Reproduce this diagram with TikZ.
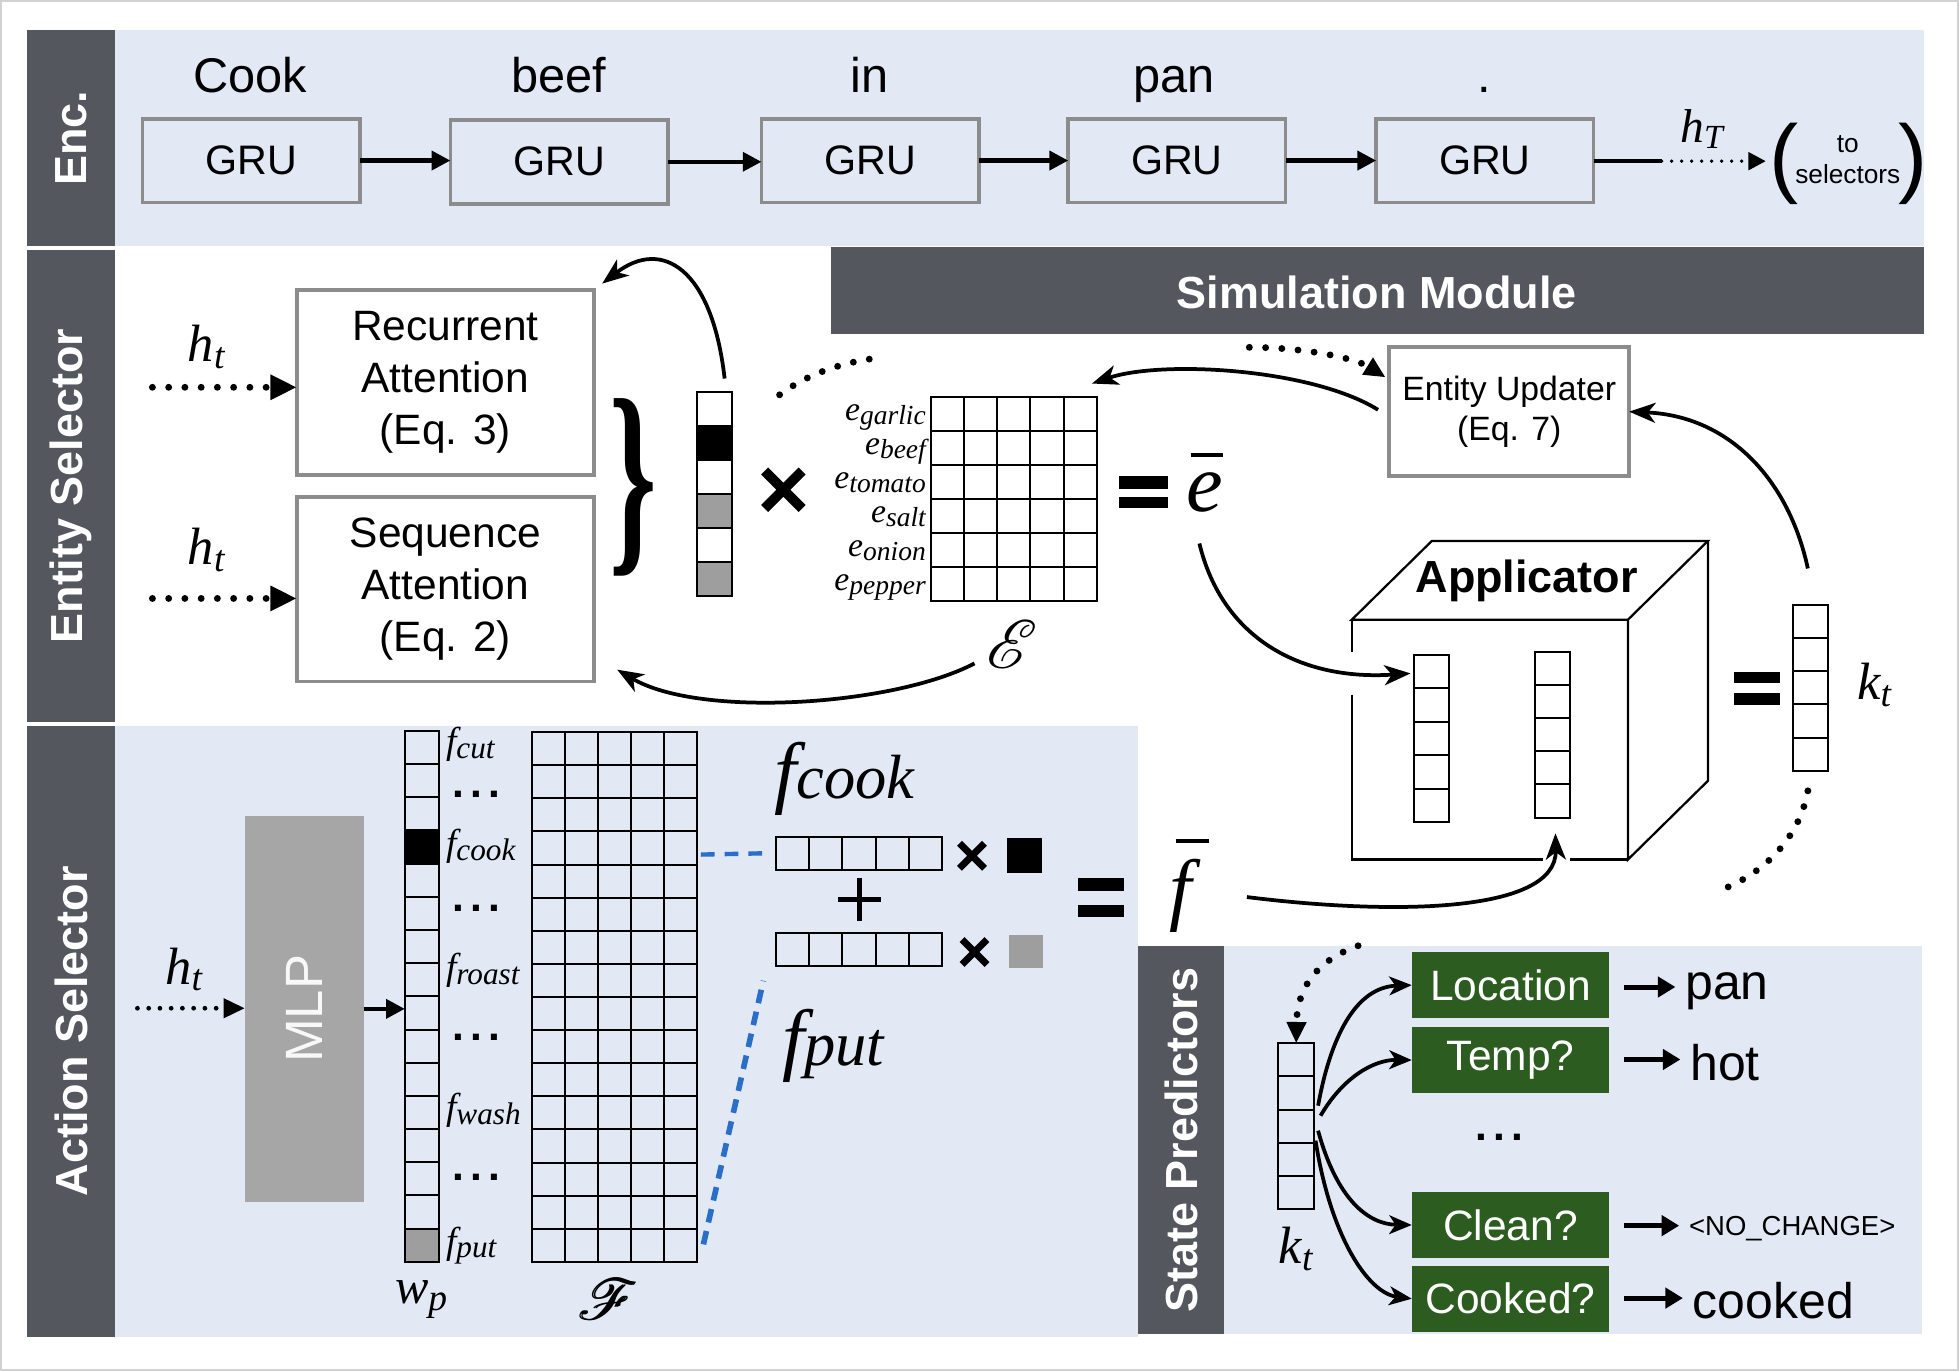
\documentclass[tikz,border=0pt]{standalone}
\usepackage{fontspec}
\usepackage{graphicx}
\usepackage{mathrsfs}
\setmainfont{Liberation Sans}
\newfontfamily\tms{Liberation Serif}
\usetikzlibrary{arrows.meta,calc}

\definecolor{panel}{RGB}{226,233,245}
\definecolor{bar}{RGB}{84,87,94}
\definecolor{boxedge}{RGB}{140,140,140}
\definecolor{mlpgray}{RGB}{166,166,166}
\definecolor{cellgray}{RGB}{158,158,158}
\definecolor{predgreen}{RGB}{44,92,31}
\definecolor{linkblue}{RGB}{42,110,200}

\newcommand\fsz[2]{\fontsize{#1}{#2}\selectfont}
% italic serif symbol with a lowered subscript: size, letter, subscript size, subscript
\newcommand\isub[4]{{\tms\itshape\fsz{#1}{#1}#2\raisebox{-0.13em}{\fsz{#3}{#3}#4}}}
% cell dividers of a vector / matrix node: node, count, count-1
\newcommand\rowlines[3]{\foreach \ii in {1,...,#3}{\draw[cellline] ($(#1.north west)!\ii/#2!(#1.south west)$) -- ($(#1.north east)!\ii/#2!(#1.south east)$);}}
\newcommand\collines[3]{\foreach \ii in {1,...,#3}{\draw[cellline] ($(#1.north west)!\ii/#2!(#1.north east)$) -- ($(#1.south west)!\ii/#2!(#1.south east)$);}}
% fill one row cell: node, rows, index, colour
\newcommand\cellfill[4]{\pgfmathsetmacro\cfa{(#3-1)/#2}\pgfmathsetmacro\cfb{#3/#2}\fill[#4] ($(#1.north west)!\cfa!(#1.south west)$) rectangle ($(#1.north east)!\cfb!(#1.south east)$);}

\begin{document}
\begin{tikzpicture}[x=1pt,y=-1pt,
  every node/.style={inner sep=0pt,outer sep=0pt},
  barlabel/.style={text=white,font=\bfseries\fsz{36}{36},rotate=90},
  word/.style={anchor=base,font=\fsz{39}{39}},
  grubox/.style={draw=boxedge,line width=3pt,fill=panel,minimum width=174pt,minimum height=67pt,font=\fsz{33}{33}},
  attbox/.style={draw=boxedge,line width=3pt,fill=white,minimum width=238pt,minimum height=148pt,align=center,font=\fsz{34}{42}},
  predbox/.style={fill=predgreen,text=white,minimum width=158pt,minimum height=53pt,font=\fsz{34}{34}},
  outtxt/.style={anchor=base west,font=\fsz{40}{40}},
  cellline/.style={line width=1.6pt},
  vecbox/.style={draw,line width=1.6pt,minimum width=28pt},
  seqarrow/.style={line width=3.5pt,-{Triangle[length=15pt,width=15pt]}},
  outarrow/.style={line width=4pt,shorten >=8pt,-{Triangle[length=14pt,width=16pt]}},
  arcarrow/.style={line width=3pt,-{Stealth[length=21pt,width=16pt,inset=6pt]}},
  fanarrow/.style={line width=3pt,-{Stealth[length=18pt,width=15pt,inset=5pt]}},
  dotline/.style={line width=5.5pt,line cap=round,dash pattern=on 0pt off 13pt},
  smalldots/.style={line width=3.8pt,line cap=round,dash pattern=on 0pt off 9pt},
  tipL/.style={-{Triangle[length=21pt,width=19pt]}},
  tipM/.style={-{Triangle[length=17pt,width=15pt]}},
  tipS/.style={-{Triangle[length=14pt,width=14pt]}},
  crossmark/.style={line width=5.5pt},
]
\useasboundingbox (0,0) rectangle (1568,1097);
\draw[black!18,line width=1.5pt] (0.75,0.75) rectangle (1567.25,1096.25);

% section backgrounds and title bars
\fill[panel] (92,24) rectangle (1540,197);
\fill[panel] (92,581) rectangle (911,1070);
\fill[panel] (980,757) rectangle (1538,1068);
\fill[bar] (22,24) rectangle (92,197);
\fill[bar] (22,200) rectangle (92,578);
\fill[bar] (22,581) rectangle (92,1070);
\fill[bar] (911,757) rectangle (980,1068);
\fill[bar] (665,198) rectangle (1540,267);
\node[barlabel] (encl) at (57,110.5) {Enc.};
\node[barlabel] (entl) at (57,389) {Entity Selector};
\node[barlabel] (actl) at (57,825.5) {Action Selector};
\node[barlabel] (stl) at (945.5,912.5) {State Predictors};
\node[text=white,font=\bfseries\fsz{36}{36}] (siml) at (1102,234) {Simulation Module};

% ---------------- encoder ----------------
\node[word] (w1) at (200,74) {Cook};
\node[word] (w2) at (447,74) {beef};
\node[word] (w3) at (696,74) {in};
\node[word] (w4) at (940,74) {pan};
\node[word] (w5) at (1188,74) {.};
\node[grubox] (g1) at (201,128.5) {GRU};
\node[grubox] (g2) at (447.5,129.5) {GRU};
\node[grubox] (g3) at (696.5,128.5) {GRU};
\node[grubox] (g4) at (942,128.5) {GRU};
\node[grubox] (g5) at (1188.5,128.5) {GRU};
\foreach \a/\b in {g1/g2,g2/g3,g3/g4,g4/g5}
  \draw[seqarrow] (\a.east) -- (\a.east -| \b.west);
\node[font=\fsz{70}{70}] (lp) at (1428,131.5) {(};
\node[font=\fsz{70}{70}] (rp) at (1531,131.5) {)};
\node[align=center,font=\fsz{21}{25}] (sel) at (1479,128) {to\\selectors};
\node (hT) at (1362,103) {\isub{38}{h}{27}{T}};
\coordinate (hTgap) at (1330,129);
\draw[line width=3pt] (g5.east |- hTgap) -- (hTgap);
\draw[tipS,line width=3pt,line cap=round,dash pattern=on 0pt off 8pt,shorten >=3pt] (hTgap) -- (hTgap -| lp.west);

% ---------------- entity selector ----------------
\node[attbox] (rec) at (356.5,306) {Recurrent\\Attention\\(Eq. 3)};
\node[attbox] (seq) at (356.5,471.5) {Sequence\\Attention\\(Eq. 2)};
\node (ht1) at (165,278) {\isub{42}{h}{30}{t}};
\node (ht2) at (165,440) {\isub{42}{h}{30}{t}};
\coordinate (in1) at (122,310);
\coordinate (in2) at (122,479);
\draw[dotline,tipL] (in1) -- (in1 -| rec.west);
\draw[dotline,tipL] (in2) -- (in2 -| seq.west);
\node (brace) at (507,390) {\resizebox*{38pt}{142pt}{\tms\bfseries\}}};

% attention weights over entities
\node[minimum width=28pt,minimum height=163pt,fill=white] (att) at (572,395.5) {};
\cellfill{att}{6}{2}{black}
\cellfill{att}{6}{4}{cellgray}
\cellfill{att}{6}{6}{cellgray}
\rowlines{att}{6}{5}
\draw[cellline] (att.north west) rectangle (att.south east);
\draw[line width=8pt] (612,377) -- (642,407) (612,407) -- (642,377);

% entity matrix
\node[minimum width=133pt,minimum height=163pt] (Emat) at (811.5,399.5) {};
\rowlines{Emat}{6}{5}
\collines{Emat}{5}{4}
\draw[cellline] (Emat.north west) rectangle (Emat.south east);
\foreach \nm/\yy in {garlic/331.6,beef/358.8,tomato/385.9,salt/413,onion/440.2,pepper/467.4}
  \node[anchor=base east] (e\nm) at (741,\yy+5) {\isub{27}{e}{22}{\nm}};
\node (Escr) at (810,516) {\fsz{10}{10}\scalebox{5.5}{$\mathscr{E}$}};
\fill (896,381) rectangle (935,391);
\fill (896,398) rectangle (935,407);
\node[font=\tms\itshape\fsz{66}{66}] (ebar) at (964,394) {e};
\draw[line width=3pt] (953,364) -- (979,364);

% entity updater
\node[draw=boxedge,line width=3pt,fill=white,minimum width=192pt,minimum height=103pt,align=center,font=\fsz{27}{32}] (upd) at (1208,329.5) {Entity Updater\\(Eq. 7)};

\coordinate (attTop) at (580,303);
\coordinate (recIn) at (482,227);
\draw[arcarrow] (attTop) .. controls (570,215) and (530,190) .. (recIn);
\coordinate (Eout) at (780,531);
\coordinate (seqIn) at (494,536);
\draw[arcarrow] (Eout) .. controls (715,565) and (560,575) .. (seqIn);
\coordinate (updOut) at (1103,328);
\coordinate (EmIn) at (874,307);
\draw[arcarrow] (updOut) .. controls (1050,295) and (930,288) .. (EmIn);
\coordinate (dA) at (624,316);
\coordinate (dB) at (707,286);
\draw[dotline] (dA) .. controls (648,298) and (678,289) .. (dB);
\coordinate (dC) at (1000,278);
\coordinate (updIn) at (1109,302);
\draw[dotline,tipM] (dC) .. controls (1045,278) and (1085,287) .. (updIn);

% ---------------- applicator ----------------
\coordinate (cA) at (1082,496); \coordinate (cB) at (1303,496);
\coordinate (cC) at (1303,688); \coordinate (cD) at (1082,688);
\coordinate (cE) at (1146,433); \coordinate (cF) at (1367,433);
\coordinate (cG) at (1367,625);
\draw[line width=1.8pt] (cA) -- (cE) -- (cF) -- (cB) -- cycle;
\draw[line width=1.8pt] (cF) -- (cG) -- (cC) -- (cB);
\draw[line width=1.8pt] (cA) -- (1082,522) (1082,556) -- (cD) -- (1235,688) (1257,688) -- (cC);
\node[font=\bfseries\fsz{36}{36}] (appl) at (1222,465) {Applicator};
\node[vecbox,minimum height=134pt] (v1) at (1145.5,591) {};
\rowlines{v1}{5}{4}
\node[vecbox,minimum height=133pt] (v2) at (1242.5,588) {};
\rowlines{v2}{5}{4}
\node[vecbox,minimum height=133pt] (kt) at (1449,550.5) {};
\rowlines{kt}{5}{4}
\fill (1388,538) rectangle (1425,547);
\fill (1388,555) rectangle (1425,564);
\node (ktl) at (1500,548) {\isub{42}{k}{30}{t}};

\coordinate (ebarOut) at (960,435);
\coordinate (v1In) at (1129,539);
\draw[arcarrow] (ebarOut) .. controls (978,510) and (1040,545) .. (v1In);
\node[font=\tms\itshape\fsz{64}{64}] (fbar) at (945,717) {f};
\draw[line width=3pt] (941,673) -- (968,673);
\coordinate (fbarOut) at (998,718);
\coordinate (v2In) at (1245,667);
\draw[arcarrow] (fbarOut) .. controls (1110,732) and (1246,732) .. (v2In);
\coordinate (ktOut) at (1447,455);
\draw[arcarrow] (ktOut) .. controls (1432,385) and (1385,333) .. (upd.east);
\coordinate (kA) at (1447,633);
\coordinate (kB) at (1378,712);
\draw[dotline] (kA) .. controls (1440,672) and (1410,700) .. (kB);

% ---------------- action selector ----------------
\node (hta) at (147,776) {\isub{42}{h}{30}{t}};
\node[fill=mlpgray,minimum width=95pt,minimum height=309pt] (mlp) at (243.5,807.5) {};
\node[rotate=90,text=white!92!mlpgray,font=\fsz{42}{42}] (mlpt) at (mlp) {MLP};
\coordinate (in3) at (110,807);
\draw[smalldots,tipM] (in3) -- (in3 -| mlp.west);

\node[minimum width=27pt,minimum height=425pt,fill=panel] (wp) at (337.5,797.5) {};
\cellfill{wp}{16}{4}{black}
\cellfill{wp}{16}{16}{cellgray}
\rowlines{wp}{16}{15}
\draw[cellline] (wp.north west) rectangle (wp.south east);
\draw[seqarrow] (mlp.east) -- (mlp.east -| wp.west);
\foreach \nm/\yy in {cut/597,cook/679,roast/778,wash/890,put/997}
  \node[anchor=base west] (f\nm) at (357,\yy+6) {\isub{30}{f}{25}{\nm}};
\foreach \yy [count=\i] in {636,727,830,942}
  \node[anchor=west] (fd\i) at (362,\yy) {\bfseries\fsz{34}{34}.\hspace{5pt}.\hspace{5pt}.};

\node[minimum width=132pt,minimum height=424pt] (Fmat) at (492,798) {};
\rowlines{Fmat}{16}{15}
\collines{Fmat}{5}{4}
\draw[cellline] (Fmat.north west) rectangle (Fmat.south east);
\node (wpl) at (337,1040) {\isub{40}{w}{30}{p}};
\node (Fscr) at (487,1040) {\fsz{10}{10}\scalebox{4.6}{\rlap{$\mathscr{F}$}\kern0.35pt$\mathscr{F}$}};

% weighted sum of the selected action embeddings
\node (fcookL) at (676,623) {{\tms\itshape\fsz{64}{64}f\fsz{50}{50}cook}};
\node[minimum width=133pt,minimum height=26pt] (fcv) at (687.5,683) {};
\collines{fcv}{5}{4}
\draw[cellline] (fcv.north west) rectangle (fcv.south east);
\node[minimum width=133pt,minimum height=26pt] (fpv) at (687.5,760) {};
\collines{fpv}{5}{4}
\draw[cellline] (fpv.north west) rectangle (fpv.south east);
\node (fputL) at (667,837) {{\tms\itshape\fsz{64}{64}f\fsz{50}{50}put}};
\draw[crossmark] (768,675) -- (788,695) (768,695) -- (788,675);
\draw[crossmark] (770,752) -- (790,772) (770,772) -- (790,752);
\node[fill=black,minimum size=28pt] (wcook) at (820,685) {};
\node[fill=cellgray,minimum size=27pt] (wput) at (821.5,761.5) {};
\draw[line width=4.5pt] (671,720) -- (705,720) (688,703) -- (688,737);
\fill (863,703) rectangle (900,713);
\fill (863,724) rectangle (900,734);
\coordinate (bl1) at (561,684);
\draw[linkblue,line width=3.5pt,dash pattern=on 11pt off 8pt] (bl1) -- ($(fcv.west)+(-10,0)$);
\coordinate (bl2) at (563,996);
\draw[linkblue,line width=4.5pt,dash pattern=on 11pt off 7pt] (bl2) -- ($(fpv.south west)+(-10,12)$);

% ---------------- state predictors ----------------
\node[vecbox,minimum width=29pt,minimum height=133pt] (kt2) at (1037.5,901.5) {};
\rowlines{kt2}{5}{4}
\node (kt2l) at (1037,1000) {\isub{42}{k}{30}{t}};
\coordinate (sA) at (1087,757);
\draw[dotline,tipM] (sA) .. controls (1050,770) and (1038,795) .. (kt2.north);
\node[predbox] (loc) at (1209,788.5) {Location};
\node[predbox] (tmp) at (1209,848.5) {Temp?};
\node[predbox] (cln) at (1209,980.5) {Clean?};
\node[predbox] (ckd) at (1209,1039.5) {Cooked?};
\coordinate (k1) at (1055,885);
\coordinate (k2) at (1057,893);
\coordinate (k3) at (1055,905);
\coordinate (k4) at (1053,913);
\draw[fanarrow] (k1) .. controls (1065,830) and (1085,790) .. (loc.west);
\draw[fanarrow] (k2) .. controls (1075,862) and (1100,848) .. (tmp.west);
\draw[fanarrow] (k3) .. controls (1070,960) and (1095,980) .. (cln.west);
\draw[fanarrow] (k4) .. controls (1065,990) and (1095,1035) .. (ckd.west);
\node (sdots) at (1200,910) {\bfseries\fsz{34}{34}.\hspace{5pt}.\hspace{5pt}.};

\node[outtxt] (o1) at (1349,800) {pan};
\node[outtxt] (o2) at (1353,865) {hot};
\node[outtxt,font=\fsz{22}{22}] (o3) at (1352,989) {<NO\_CHANGE>};
\node[outtxt] (o4) at (1355,1055) {cooked};
\coordinate (r1) at (1300,790);
\coordinate (r2) at (1300,848);
\coordinate (r3) at (1300,981);
\coordinate (r4) at (1300,1039);
\draw[outarrow] (r1) -- (r1 -| o1.west);
\draw[outarrow] (r2) -- (r2 -| o2.west);
\draw[outarrow] (r3) -- (r3 -| o3.west);
\draw[outarrow] (r4) -- (r4 -| o4.west);
\end{tikzpicture}
\end{document}
